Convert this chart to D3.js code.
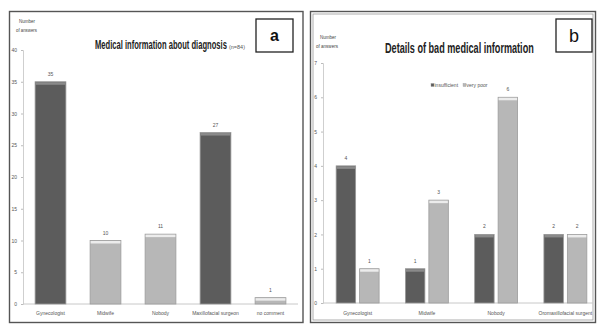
<!DOCTYPE html>
<html><head><meta charset="utf-8">
<script src="https://cdn.jsdelivr.net/npm/d3@7"></script>
<style>
body{margin:0;background:#fff;}
svg{display:block;}
text{font-family:"Liberation Sans",Arial,sans-serif;}
</style></head>
<body><svg id="c" width="597" height="326"></svg>
<script>
// ---- Data ----
const catsA = ["Gynecologist","Midwife","Nobody","Maxillofacial surgeon","no comment"];
const valsA = [35,10,11,27,1];
const ticksA = [0,5,10,15,20,25,30,35,40];

const catsB = ["Gynecologist","Midwife","Nobody","Oromaxillofacial surgent"];
const seriesB = ["insufficient","very poor"];
const insufficientB = [4,1,2,2];
const veryPoorB = [1,3,6,2];
const ticksB = [0,1,2,3,4,5,6,7];

// ---- Styles ----
const DARK = {fill:"#5c5c5c", cap:"#8a8a8a", edge:"#9a9a9a"};
const LIGHT = {fill:"#b7b7b7", cap:"#ececec", edge:"#9c9c9c"};
const toneA = d3.scaleOrdinal().domain(catsA).range([DARK,LIGHT,LIGHT,DARK,LIGHT]);
const toneB = d3.scaleOrdinal().domain(seriesB).range([DARK,LIGHT]);

const svg = d3.select("#c");

// text placed at (x,y) and squeezed horizontally to width w
function fitText(x, y, w, str, size, weight, fill){
  const g = svg.append("g");
  const t = g.append("text").attr("x",0).attr("y",0).attr("fill",fill)
    .style("font-size",size+"px").style("font-weight",weight||"normal").text(str);
  const len = t.node().getComputedTextLength();
  g.attr("transform",`translate(${x},${y}) scale(${w/len},1)`);
  return t;
}

function bar3d(g, x, y, w, h, tone){
  g.append("rect").attr("x",x).attr("y",y).attr("width",w).attr("height",h)
    .attr("fill",tone.fill).attr("stroke",tone.edge).attr("stroke-width",0.8);
  g.append("rect").attr("x",x+0.5).attr("y",y+0.5).attr("width",w-1).attr("height",Math.min(2.5,h))
    .attr("fill",tone.cap);
}

function frame(x,y,w,h,dbl){
  svg.append("rect").attr("x",x).attr("y",y).attr("width",w).attr("height",h)
    .attr("fill","none").attr("stroke","#555").attr("stroke-width",1.4);
  if(dbl){
    svg.append("rect").attr("x",x+2.5).attr("y",y+2.5).attr("width",w-5).attr("height",h-5)
      .attr("fill","none").attr("stroke","#999").attr("stroke-width",0.8);
  }
}

function styleAxis(ax){
  ax.select(".domain").attr("stroke","#cfcfcf");
  ax.selectAll(".tick line").attr("stroke","#bbb");
  ax.selectAll(".tick text").attr("fill","#555").style("font-size","5px");
}

// ---- Panel A ----
frame(9.5,11.5,293.5,311,false);
const xA = d3.scaleBand().domain(catsA).range([23,298]).paddingInner(0.44).paddingOuter(0.22);
const yA = d3.scaleLinear().domain([0,40]).range([304,50]);

const axA = svg.append("g").attr("transform","translate(23,0)")
  .call(d3.axisLeft(yA).tickValues(ticksA).tickFormat(d3.format("d")).tickSize(2).tickPadding(4));
styleAxis(axA);

svg.append("line").attr("x1",23).attr("x2",298).attr("y1",yA(0)).attr("y2",yA(0)).attr("stroke","#c8c8c8");

const gA = svg.append("g");
catsA.forEach((c,i)=>{
  const v = valsA[i];
  bar3d(gA, xA(c), yA(v), xA.bandwidth(), yA(0)-yA(v), toneA(c));
  gA.append("text").attr("x",xA(c)+xA.bandwidth()/2).attr("y",yA(v)-6)
    .attr("text-anchor","middle").attr("fill","#555").style("font-size","5px").text(v);
  gA.append("text").attr("x",xA(c)+xA.bandwidth()/2).attr("y",315)
    .attr("text-anchor","middle").attr("fill","#555").style("font-size","5px").text(c);
});

fitText(19,23,16,"Number",4.5,"normal","#444");
fitText(16,32,21,"of answers",4.5,"normal","#444");

fitText(95,49,132,"Medical information about diagnosis",12,"bold","#222");
fitText(229,49,16,"(n=84)",5,"normal","#555");

svg.append("rect").attr("x",256).attr("y",19).attr("width",37).attr("height",33)
  .attr("fill","#fff").attr("stroke","#222").attr("stroke-width",1.3);
svg.append("text").attr("x",274.5).attr("y",41).attr("text-anchor","middle")
  .style("font-size","16px").style("font-weight","bold").attr("fill","#111").text("a");

// ---- Panel B ----
frame(310.5,11.5,285,311,true);
const x0 = d3.scaleBand().domain(catsB).range([323,600]).paddingInner(0.38).paddingOuter(0.19);
const x1 = d3.scaleBand().domain(seriesB).range([0,x0.bandwidth()]).paddingInner(0.17);
const yB = d3.scaleLinear().domain([0,7]).range([303,63]);

const axB = svg.append("g").attr("transform","translate(323,0)")
  .call(d3.axisLeft(yB).tickValues(ticksB).tickFormat(d3.format("d")).tickSize(2).tickPadding(4));
styleAxis(axB);
svg.append("line").attr("x1",323).attr("x2",593).attr("y1",yB(0)).attr("y2",yB(0)).attr("stroke","#c8c8c8");

const valsB = {"insufficient":insufficientB,"very poor":veryPoorB};
const gB = svg.append("g");
catsB.forEach((c,i)=>{
  seriesB.forEach(s=>{
    const v = valsB[s][i];
    const x = x0(c)+x1(s);
    bar3d(gB, x, yB(v), x1.bandwidth(), yB(0)-yB(v), toneB(s));
    gB.append("text").attr("x",x+x1.bandwidth()/2).attr("y",yB(v)-6)
      .attr("text-anchor","middle").attr("fill","#555").style("font-size","5px").text(v);
  });
  gB.append("text").attr("x",x0(c)+x0.bandwidth()/2).attr("y",315)
    .attr("text-anchor","middle").attr("fill","#555").style("font-size","5px").text(c);
});

fitText(320,39,16,"Number",4.5,"normal","#444");
fitText(316,48,22,"of answers",4.5,"normal","#444");

fitText(385,53,149,"Details of bad medical information",14,"bold","#222");

// legend
const lg = svg.append("g").attr("transform","translate(431,87)");
let lx = 0;
seriesB.forEach((s,i)=>{
  const t = toneB(s);
  lg.append("rect").attr("x",lx).attr("y",-3.5).attr("width",3).attr("height",3).attr("fill",t.fill).attr("stroke",t.edge).attr("stroke-width",0.4);
  const tx = lg.append("text").attr("x",lx+3.5).attr("y",0).attr("fill","#555").style("font-size","5px").text(s);
  lx += 3.5 + tx.node().getComputedTextLength() + 5;
});

svg.append("rect").attr("x",556).attr("y",19).attr("width",36).attr("height",33)
  .attr("fill","#fff").attr("stroke","#222").attr("stroke-width",1.3);
svg.append("text").attr("x",574).attr("y",42).attr("text-anchor","middle")
  .style("font-size","18px").attr("fill","#111").text("b");
</script></body></html>
